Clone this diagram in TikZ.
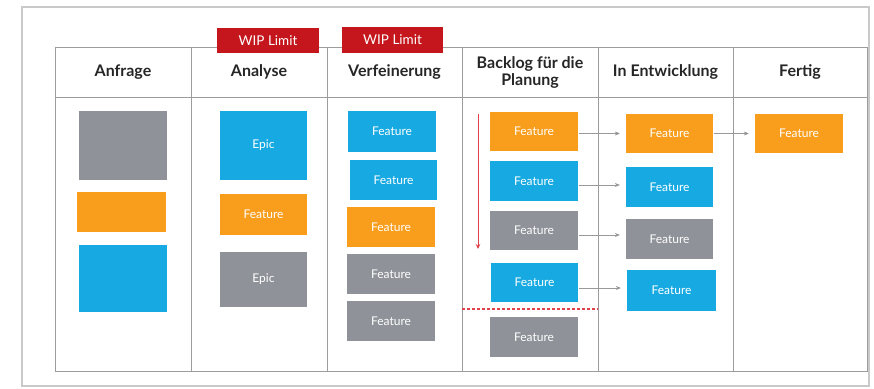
\documentclass[tikz,border=0pt]{standalone}
\usepackage{fontspec}
\setmainfont{Lato}
\usetikzlibrary{arrows.meta}
\definecolor{cblue}{HTML}{17A9E1}
\definecolor{corange}{HTML}{F99D1C}
\definecolor{cgray}{HTML}{8F9298}
\definecolor{wipred}{HTML}{C4161C}
\definecolor{gridgray}{HTML}{9C9C9C}
\definecolor{framegray}{HTML}{C9C9C9}
\definecolor{lred}{HTML}{E0404A}
\newcommand\cardnode[7]{\node[card, fill=#2, minimum width={(#5)-(#3)}, minimum height={(#6)-(#4)}] (#1) at ({((#3)+(#5))/2},{((#4)+(#6))/2}) {#7};}
\begin{document}
\begin{tikzpicture}[x=1pt,y=-1pt,
  card/.style={rectangle, inner sep=0pt, text=white, font=\fontsize{12}{14}\selectfont},
  head/.style={font=\fontsize{16}{17}\selectfont\bfseries, text=black!85, align=center},
  wip/.style={rectangle, fill=wipred, inner sep=0pt, text=white, font=\fontsize{13.5}{15}\selectfont},
  grid/.style={draw=gridgray, line width=0.9pt},
  flow/.style={draw=gray!80, line width=0.6pt, -{Stealth[length=5pt,width=4pt,fill=black!75]}, shorten >=6pt, shorten <=1pt}
]
\useasboundingbox (0,0) rectangle (874,388);
% outer frame
\draw[framegray, line width=1.2pt] (22,7) rectangle (869,386);
% table
\draw[grid] (55,47) rectangle (867,371);
\draw[grid] (55,97) -- (867,97);
\foreach \x in {191,327,462,598,733} \draw[grid] (\x,47) -- (\x,371);
% headers
\node[head] (h1) at (123,72) {Anfrage};
\node[head] (h2) at (259,72) {Analyse};
\node[head] (h3) at (394.5,72) {Verfeinerung};
\node[head] (h4) at (530,72) {Backlog für die\\Planung};
\node[head] (h5) at (665.5,72) {In Entwicklung};
\node[head] (h6) at (800,72) {Fertig};
% WIP limits
\node[wip, minimum width=102pt, minimum height=25pt] (w1) at (268,40.5) {WIP Limit};
\node[wip, minimum width=101pt, minimum height=26pt] (w2) at (392.5,40) {WIP Limit};
% Anfrage
\cardnode{a1}{cgray}{79}{111}{167}{180}{}
\cardnode{a2}{corange}{77}{192}{166}{232}{}
\cardnode{a3}{cblue}{79}{245}{167}{312}{}
% Analyse
\cardnode{b1}{cblue}{220}{111}{307}{180}{Epic}
\cardnode{b2}{corange}{220}{194}{307}{235}{Feature}
\cardnode{b3}{cgray}{220}{252}{307}{307}{Epic}
% Verfeinerung
\cardnode{c1}{cblue}{348}{111}{436}{152}{Feature}
\cardnode{c2}{cblue}{350}{160}{437}{200}{Feature}
\cardnode{c3}{corange}{347}{207}{435}{247}{Feature}
\cardnode{c4}{cgray}{347}{254}{435}{294}{Feature}
\cardnode{c5}{cgray}{347}{301}{435}{341}{Feature}
% Backlog
\cardnode{d1}{corange}{490}{112}{578}{151}{Feature}
\cardnode{d2}{cblue}{490}{161}{578}{201}{Feature}
\cardnode{d3}{cgray}{490}{211}{578}{250}{Feature}
\cardnode{d4}{cblue}{491}{263}{578}{302}{Feature}
\cardnode{d5}{cgray}{490}{317}{578}{357}{Feature}
% In Entwicklung
\cardnode{e1}{corange}{626}{114}{713}{153}{Feature}
\cardnode{e2}{cblue}{626}{167}{713}{207}{Feature}
\cardnode{e3}{cgray}{626}{219}{713}{259}{Feature}
\cardnode{e4}{cblue}{627}{270}{716}{311}{Feature}
% Fertig
\cardnode{f1}{corange}{755}{114}{843}{153}{Feature}
% priority arrow
\coordinate (ps) at (478,114);
\coordinate (pe) at (478,249);
\draw[lred, line width=0.9pt, -{Stealth[length=5pt,width=4.5pt]}] (ps) -- (pe);
% planning cut line
\coordinate (cl) at (462,309);
\coordinate (cr) at (598,309);
\draw[lred, line width=1.3pt, dash pattern=on 3pt off 2pt] (cl) -- (cr);
% flows
\draw[flow] ([yshift=-2pt]d1.east) -- ([yshift=-2pt]d1.east -| e1.west);
\draw[flow] ([yshift=-4pt]d2.east) -- ([yshift=-4pt]d2.east -| e2.west);
\draw[flow] ([yshift=-4.5pt]d3.east) -- ([yshift=-4.5pt]d3.east -| e3.west);
\draw[flow] ([yshift=-5.5pt]d4.east) -- ([yshift=-5.5pt]d4.east -| e4.west);
\draw[flow] (e1.east) -- (e1.east -| f1.west);
\end{tikzpicture}
\end{document}
